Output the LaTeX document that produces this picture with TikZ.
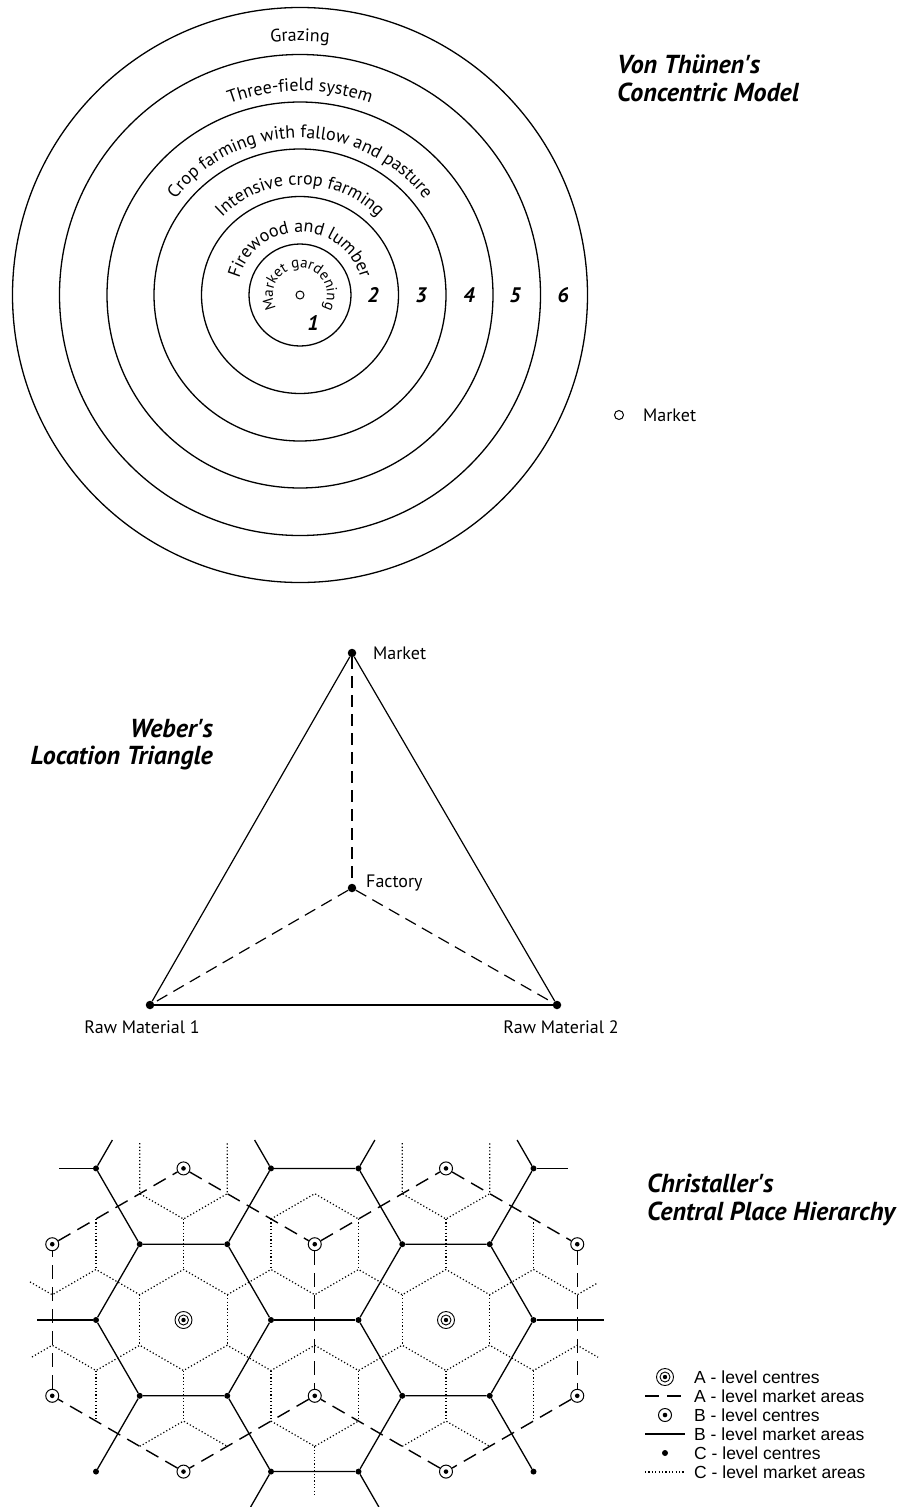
\documentclass[tikz,border=0pt]{standalone}
\usepackage{fontspec}
\setmainfont{PT Sans}
\newfontfamily\legfont{Liberation Sans}
\usetikzlibrary{decorations.text}
\newcommand\arcfont{\fontsize{18}{20}\selectfont}
\newcommand\mgfont{\fontsize{15}{17}\selectfont}
\begin{document}
\begin{tikzpicture}[x=1pt,y=1pt,
  ring/.style={line width=1.3pt},
  lbl/.style={font=\fontsize{18}{21}\selectfont, inner sep=0pt},
  ttl/.style={font=\fontsize{26}{30}\selectfont\bfseries\itshape, inner sep=0pt},
  num/.style={font=\fontsize{21}{23}\selectfont\bfseries\itshape, inner sep=0pt},
  leg/.style={font=\legfont\fontsize{17.5}{20}\selectfont, inner sep=0pt, anchor=west},
  wdot/.style={circle, fill=black, inner sep=0pt, minimum size=8.5pt},
  tri/.style={line width=1.2pt},
  tridash/.style={line width=1.2pt, dash pattern=on 12pt off 7pt},
  cdot/.style={circle, fill=black, inner sep=0pt, minimum size=6pt},
  bcen/.style={circle, draw, fill=white, line width=1pt, inner sep=0pt, minimum size=13pt,
    path picture={\fill[black] (path picture bounding box.center) circle[radius=2.3pt];}},
  acen/.style={circle, draw, fill=white, line width=0.9pt, inner sep=0pt, minimum size=17pt,
    path picture={\draw[line width=0.9pt] (path picture bounding box.center) circle[radius=5pt];
                  \fill[black] (path picture bounding box.center) circle[radius=2.2pt];}},
  bline/.style={line width=1.3pt},
  adash/.style={line width=1.4pt, dash pattern=on 14pt off 8pt},
  cline/.style={line width=1.2pt, dash pattern=on 1.2pt off 2.2pt}
]
\path[use as bounding box] (0,0) rectangle (899,-1507);

% ================= Von Thuenen =================
\begin{scope}[shift={(300,-295)}]
  \node[circle, draw, line width=1pt, minimum size=8pt, inner sep=0pt] (vcentre) at (0,0) {};
  \foreach \r in {51,98.5,146,193,240.5,287.5} \draw[ring] (0,0) circle[radius=\r];
  \path[decorate, decoration={text along path, text align=center, text={|\mgfont|Market gardening}}]
    (230:27) arc[start angle=230, end angle=-50, radius=27];
  \path[decorate, decoration={text along path, text align=center, text={|\arcfont|Firewood and lumber}}]
    (200:63) arc[start angle=200, end angle=-20, radius=63];
  \path[decorate, decoration={text along path, text align=center, text={|\arcfont|Intensive crop farming}}]
    (180:110) arc[start angle=180, end angle=0, radius=110];
  \path[decorate, decoration={text along path, text align=center, text={|\arcfont|Crop farming with fallow and pasture}}]
    (180:157) arc[start angle=180, end angle=0, radius=157];
  \path[decorate, decoration={text along path, text align=center, text={|\arcfont|Three-field system}}]
    (180:204) arc[start angle=180, end angle=0, radius=204];
  \path[decorate, decoration={text along path, text align=center, text={|\arcfont|Grazing}}]
    (180:254) arc[start angle=180, end angle=0, radius=254];
\end{scope}
\node[num] (n1) at (313,-323) {1};
\node[num] (n2) at (373,-295) {2};
\node[num] (n3) at (421,-295) {3};
\node[num] (n4) at (469,-295) {4};
\node[num] (n5) at (515,-295) {5};
\node[num] (n6) at (563,-295) {6};
\node[ttl, anchor=base west] (vt1) at (617,-73) {Von Thünen\textquotesingle s};
\node[ttl, anchor=base west] (vt2) at (617,-101) {Concentric Model};
\node[circle, draw, line width=1pt, minimum size=9pt, inner sep=0pt] (vmk) at (619,-415) {};
\node[lbl, anchor=west] (vmkl) at (643,-415) {Market};

% ================= Weber =================
\node[wdot] (wm) at (352,-653) {};
\node[wdot] (wf) at (352,-888) {};
\node[wdot] (w1) at (150,-1005) {};
\node[wdot] (w2) at (557,-1005) {};
\draw[tri] (wm) -- (w1);
\draw[tri] (wm) -- (w2);
\draw[tri] (w1) -- (w2);
\draw[tridash] (wm) -- (wf);
\draw[tridash] (wf) -- (w1);
\draw[tridash] (wf) -- (w2);
\node[lbl, anchor=west] (wml) at (373,-653) {Market};
\node[lbl, anchor=west] (wfl) at (366,-883) {Factory};
\node[lbl] (w1l) at (142,-1027) {Raw Material 1};
\node[lbl] (w2l) at (561,-1027) {Raw Material 2};
\node[ttl, anchor=base east] (wt1) at (213,-737) {Weber\textquotesingle s};
\node[ttl, anchor=base east] (wt2) at (213,-764) {Location Triangle};

% ================= Christaller =================
% C-level market areas (dotted)
\draw[cline] (139.75,-1143.16) -- (139.75,-1193.68) -- (183.5,-1218.95) -- (227.25,-1193.68) -- (227.25,-1143.16);
\draw[cline] (402.25,-1143.16) -- (402.25,-1193.68) -- (446,-1218.95) -- (489.75,-1193.68) -- (489.75,-1143.16);
\draw[cline] (271,-1218.95) -- (314.75,-1193.68) -- (358.5,-1218.95);
\foreach \x in {96,183.5,271,358.5,446,533.5} \draw[cline] (\x,-1218.95) -- (\x,-1269.47);
\draw[cline] (30,-1281.9) -- (52.25,-1294.74) -- (96,-1269.47) -- (139.75,-1294.74) -- (183.5,-1269.47)
  -- (227.25,-1294.74) -- (271,-1269.47) -- (314.75,-1294.74) -- (358.5,-1269.47) -- (402.25,-1294.74)
  -- (446,-1269.47) -- (489.75,-1294.74) -- (533.5,-1269.47) -- (577.25,-1294.74) -- (598,-1282.7);
\foreach \x in {139.75,227.25,402.25,489.75} \draw[cline] (\x,-1294.74) -- (\x,-1345.26);
\draw[cline] (32,-1357) -- (52.25,-1345.26) -- (96,-1370.53) -- (139.75,-1345.26) -- (183.5,-1370.53)
  -- (227.25,-1345.26) -- (271,-1370.53) -- (314.75,-1345.26) -- (358.5,-1370.53) -- (402.25,-1345.26)
  -- (446,-1370.53) -- (489.75,-1345.26) -- (533.5,-1370.53) -- (577.25,-1345.26) -- (598,-1357.25);
\foreach \x in {96,183.5,271,358.5,446,533.5} \draw[cline] (\x,-1370.53) -- (\x,-1421.05);
\draw[cline] (139.75,-1446.32) -- (183.5,-1421.05) -- (227.25,-1446.32);
\draw[cline] (271,-1421.05) -- (314.75,-1446.32) -- (358.5,-1421.05);
\draw[cline] (402.25,-1446.32) -- (446,-1421.05) -- (489.75,-1446.32);
\draw[cline] (314.75,-1446.32) -- (314.75,-1496.84);

% centres
\node[acen] (A1) at (183.5,-1320) {};
\node[acen] (A2) at (446,-1320) {};
\node[bcen] (Ba1) at (183.5,-1168.42) {};
\node[bcen] (Ba2) at (446,-1168.42) {};
\node[bcen] (Bb1) at (52.25,-1244.21) {};
\node[bcen] (Bb2) at (314.75,-1244.21) {};
\node[bcen] (Bb3) at (577.25,-1244.21) {};
\node[bcen] (Bd1) at (52.25,-1395.79) {};
\node[bcen] (Bd2) at (314.75,-1395.79) {};
\node[bcen] (Bd3) at (577.25,-1395.79) {};
\node[bcen] (Be1) at (183.5,-1471.58) {};
\node[bcen] (Be2) at (446,-1471.58) {};
\foreach \n/\x in {1/96,2/271,3/358.5,4/533.5} {
  \node[cdot] (Ca\n) at (\x,-1168.42) {};
  \node[cdot] (Cc\n) at (\x,-1320) {};
  \node[cdot] (Ce\n) at (\x,-1471.58) {};
}
\foreach \n/\x in {1/139.75,2/227.25,3/402.25,4/489.75} {
  \node[cdot] (Cb\n) at (\x,-1244.21) {};
  \node[cdot] (Cd\n) at (\x,-1395.79) {};
}

% B-level market areas (solid)
\draw[bline] (Ca1) -- (Cb1) -- (Cb2) -- (Ca2) -- (Ca3) -- (Cb3) -- (Cb4) -- (Ca4);
\draw[bline] (Cb1) -- (Cc1);
\draw[bline] (Cb2) -- (Cc2);
\draw[bline] (Cb3) -- (Cc3);
\draw[bline] (Cb4) -- (Cc4);
\draw[bline] (Cc2) -- (Cc3);
\draw[bline] (Cc1) -- (Cd1) -- (Cd2) -- (Cc2);
\draw[bline] (Cc3) -- (Cd3) -- (Cd4) -- (Cc4);
\draw[bline] (Cd1) -- (Ce1);
\draw[bline] (Cd2) -- (Ce2) -- (Ce3) -- (Cd3);
\draw[bline] (Cd4) -- (Ce4);
\coordinate (sa1) at (59,-1168.42);
\coordinate (sa2) at (112.4,-1140);
\coordinate (sa3) at (254.6,-1140);
\coordinate (sa4) at (374.9,-1140);
\coordinate (sa5) at (517.1,-1140);
\coordinate (sa6) at (568,-1168.42);
\coordinate (sc1) at (37,-1320);
\coordinate (sc2) at (604,-1320);
\coordinate (se1) at (250.6,-1507);
\coordinate (se2) at (378.9,-1507);
\draw[bline] (Ca1) -- (sa1);
\draw[bline] (Ca1) -- (sa2);
\draw[bline] (Ca2) -- (sa3);
\draw[bline] (Ca3) -- (sa4);
\draw[bline] (Ca4) -- (sa5);
\draw[bline] (Ca4) -- (sa6);
\draw[bline] (Cc1) -- (sc1);
\draw[bline] (Cc4) -- (sc2);
\draw[bline] (Ce2) -- (se1);
\draw[bline] (Ce3) -- (se2);

% A-level market areas (dashed)
\draw[adash] (Ba1) -- (Bb2);
\draw[adash] (Bb2) -- (Bd2);
\draw[adash] (Bd2) -- (Be1);
\draw[adash] (Be1) -- (Bd1);
\draw[adash] (Bd1) -- (Bb1);
\draw[adash] (Bb1) -- (Ba1);
\draw[adash] (Bb2) -- (Ba2);
\draw[adash] (Ba2) -- (Bb3);
\draw[adash] (Bb3) -- (Bd3);
\draw[adash] (Bd3) -- (Be2);
\draw[adash] (Be2) -- (Bd2);

% title
\node[ttl, anchor=base west] (ct1) at (647,-1192) {Christaller\textquotesingle s};
\node[ttl, anchor=base west] (ct2) at (647,-1220) {Central Place Hierarchy};

% legend
\node[acen] (lgA) at (665,-1377) {};
\coordinate (lgAd1) at (645,-1396);
\coordinate (lgAd2) at (681,-1396);
\draw[adash] (lgAd1) -- (lgAd2);
\node[bcen] (lgB) at (665,-1415) {};
\coordinate (lgBl1) at (645,-1434);
\coordinate (lgBl2) at (685,-1434);
\draw[bline] (lgBl1) -- (lgBl2);
\node[cdot] (lgC) at (665,-1453) {};
\coordinate (lgCl1) at (645,-1472);
\coordinate (lgCl2) at (685,-1472);
\draw[cline] (lgCl1) -- (lgCl2);
\node[leg] (lt1) at (694,-1377) {A - level centres};
\node[leg] (lt2) at (694,-1396) {A - level market areas};
\node[leg] (lt3) at (694,-1415) {B - level centres};
\node[leg] (lt4) at (694,-1434) {B - level market areas};
\node[leg] (lt5) at (694,-1453) {C - level centres};
\node[leg] (lt6) at (694,-1472) {C - level market areas};
\end{tikzpicture}
\end{document}
